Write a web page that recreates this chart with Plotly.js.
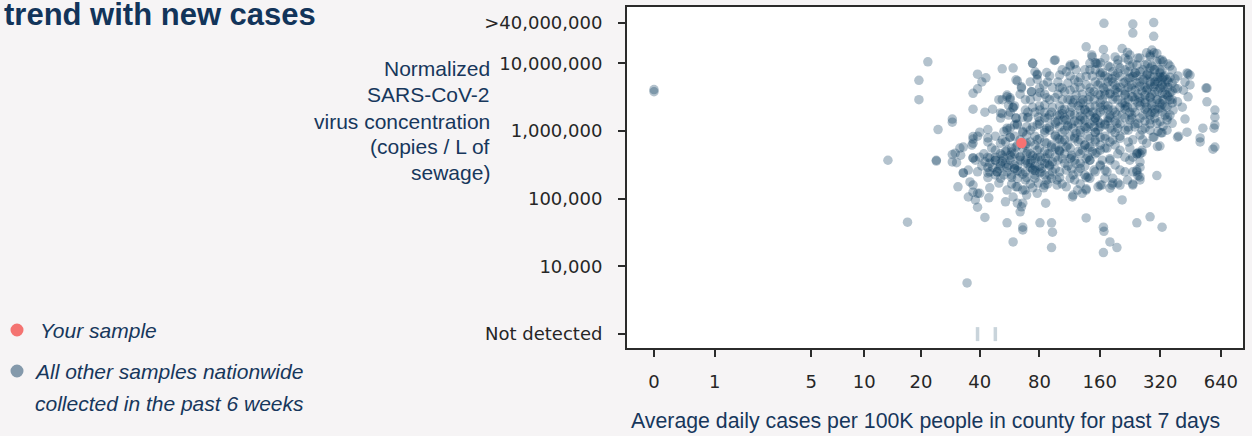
<!DOCTYPE html>
<html>
<head>
<meta charset="utf-8">
<script src="https://cdn.plot.ly/plotly-3.0.1.min.js"></script>
<style>
  html, body { margin: 0; padding: 0; background: #f6f4f5; }
  #chart { width: 1252px; height: 436px; }
</style>
</head>
<body>
<div id="chart"></div>
<script>
// ---------------- DATA ----------------
// x: average daily cases per 100K (axis drawn as log(cases + 1))
// y: normalized SARS-CoV-2 concentration (copies / L of sewage)
const xTickValues = [0, 1, 5, 10, 20, 40, 80, 160, 320, 640];
const xTickLabels = ['0', '1', '5', '10', '20', '40', '80', '160', '320', '640'];
const yTickValues = [1000, 1e4, 1e5, 1e6, 1e7, 4e7];
const yTickLabels = ['Not detected', '10,000', '100,000', '1,000,000', '10,000,000', '>40,000,000'];
const notDetectedLevel = 1000;

// your sample
const yourCases = [65];
const yourCopies = [6.65e5];

// samples with virus not detected
const notDetectedCases = [39, 48];

// all other samples [cases, copies]
const samplesSparse = [
[0,4.1e6],[0,3.8e6],[13.4,3.7e5],[17,4.5e4],[21.7,1.05e7],[19.5,5.6e6],[19.5,2.9e6],[24.5,1.05e6],[24,3.7e5],[34.5,5.7e3],
[39,6.9e6],[52,8.3e6],[59,8.5e6],[74,1.0e7],[95,1.1e7],[114,9.0e6],[43,6.1e6],[41,5.3e6],[62,5.5e6],[78,6.9e6],
[78,5.8e6],[39,4.2e6],[37,3.6e6],[65,4.3e6],[73,3.8e6],[55,3.4e6],[57,3.1e6],[50,2.9e6],[56,2.4e6],[59,2.2e6],
[37,2.1e6],[42.5,1.9e6],[46.5,2.1e6],[52,1.8e6],[61,1.55e6],[70,1.6e6],[29,1.5e6],[29,1.35e6],[39,8.4e5],[44,1.05e6],
[44,7.9e5],[37,7.6e5],[55,1.1e6],[62,1.23e6],[33,5.8e5],[36.5,6.2e5],[52,7.4e5],[57,8.1e5],[69,8.7e5]
];
const samplesTop = [
[168,3.9e7],[234,3.8e7],[234,2.8e7],[297,4.0e7],[297,2.5e7],[137,1.75e7],[167,1.6e7],[147,1.24e7],[143,1.0e7],[154,1.0e7],
[207,1.65e7],[191,1.24e7],[220,1.45e7],[291,1.57e7],[285,1.33e7],[308,1.4e7],[327,1.12e7]
];
const samplesRight = [
[435,7.2e6],[450,6.7e6],[425,5.3e6],[450,4.8e6],[546,4.3e6],[546,2.7e6],[598,2.04e6],[598,1.6e6],[598,1.23e6],[592,1.1e6],
[521,1.1e6],[505,7.9e5],[505,6.9e5],[435,9.6e5],[390,8.1e5],[412,2.25e6],[390,2.7e6],[440,3.2e6],[418,4.0e6],[367,2.6e6],
[348,1.6e6],[367,1.3e6],[323,9.4e5],[295,8.1e5],[262,7.4e5],[598,5.8e5],[585,5.4e5],[540,4.3e6],[425,1.5e6],[395,8.4e5],
[390,4.2e6],[440,7.0e6]
];
const samplesLow = [
[24,3.6e5],[29,4.5e5],[30.5,3.4e5],[31.7,5.6e5],[37,6.6e5],[37,4.0e5],[33,2.4e5],[31,1.5e5],[35.7,1.77e5],[37,1.25e5],
[35,1.06e5],[39,1.2e5],[44.5,1.03e5],[39,7.5e4],[42.5,5.3e4],[44,2.9e5],[44,2.4e5],[49,2.5e5],[50,1.7e5],[54,9.0e4],
[55,1.34e5],[59,1.06e5],[62,1.5e5],[67.7,1.34e5],[64,6.4e4],[66,8.6e4],[78,1.2e5],[86,8.6e4],[55,4.4e4],[66,3.8e4],
[66,3.45e4],[59,2.3e4],[80.5,4.4e4],[92,4.4e4],[93,3.2e4],[92,1.9e4],[79,1.7e5],[85,1.59e5],[98,1.89e5],[117,1.06e5],
[124,1.34e5],[310,5.9e5],[254,4.6e5],[245,4.6e5],[254,2.9e5],[245,2.5e5],[254,2.1e5],[308,2.2e5],[234,1.65e5],[197,1.7e5],
[186,1.7e5],[180,1.43e5],[164,1.59e5],[157,1.5e5],[140,2.1e5],[137,1.4e5],[131,1.2e5],[207,9.6e4],[137,5.2e4],[167,3.8e4],
[168,3.3e4],[245,4.4e4],[285,5.4e4],[327,3.8e4],[180,2.3e4],[195,1.9e4],[167,1.6e4]
];
const samplesCoreHigh = [
[146,1.33e7],[152,1.02e7],[114,9.4e6],[109,7.5e6],[122,8.0e6],[137,6.4e6],[161,1.02e7],[165,7.3e6],[180,8.8e6],[186,7.5e6],
[202,8.5e6],[222,1.12e7],[226,1.33e7],[245,9.4e6],[254,7.5e6],[234,6.4e6],[274,1.43e7],[285,8.5e6],[308,1.05e7],[331,1.05e7],
[327,8.0e6],[346,5.7e6],[358,6.2e6],[96,1.12e7],[101,6.7e6],[87,7.3e6],[78,6.7e6],[76,7.5e6],[74,1.0e7],[319,1.12e7],[298,1.43e7]
];
const samplesCoreUpper = [
[61,5.7e6],[65,4.5e6],[73,3.8e6],[80.5,3.7e6],[87,3.1e6],[93,4.4e6],[104,2.9e6],[107,3.8e6],[120,5.7e6],[128,4.4e6],
[132,2.9e6],[150,3.8e6],[161,5.1e6],[174,4.5e6],[186,5.3e6],[197,3.7e6],[210,5.1e6],[222,4.4e6],[234,3.2e6],[245,5.1e6],
[263,5.7e6],[274,4.0e6],[298,4.5e6],[312,5.3e6],[327,3.6e6],[331,2.9e6],[308,2.9e6],[350,4.4e6],[367,5.1e6],[346,2.25e6],
[371,2.04e6],[111,5.1e6],[122,3.4e6],[150,2.9e6],[186,2.9e6],[222,2.9e6],[254,2.7e6],[285,3.1e6],[180,3.6e6],[161,3.4e6],
[137,4.8e6],[202,6.4e6],[226,6.1e6],[274,6.7e6],[298,6.3e6],[319,6.3e6],[327,4.8e6],[84,4.8e6],[88,5.3e6],[78,3.2e6],
[55,3.2e6],[57,2.9e6],[59,2.25e6],[52,2.9e6]
];
const samplesCoreMiddle = [
[51,1.85e6],[56,1.72e6],[61,1.55e6],[66,1.6e6],[70,1.9e6],[74,2.25e6],[79,1.6e6],[85,1.9e6],[88,1.55e6],[93,2.25e6],
[98,1.72e6],[104,2.04e6],[109,1.45e6],[116,2.25e6],[120,1.72e6],[128,2.04e6],[135,1.45e6],[143,2.25e6],[155,1.72e6],[161,1.3e6],
[167,2.04e6],[176,1.55e6],[186,2.04e6],[195,1.3e6],[207,1.72e6],[220,2.25e6],[226,1.45e6],[240,1.9e6],[248,1.3e6],[263,1.72e6],
[274,2.25e6],[285,1.45e6],[301,1.85e6],[319,1.37e6],[338,1.72e6],[101,1.15e6],[118,1.1e6],[137,1.1e6],[150,1.15e6],[180,1.1e6],
[214,1.03e6],[269,1.1e6],[78,1.23e6],[69,1.15e6],[87,1.1e6],[60,1.23e6],[57,1.1e6],[66,9.8e5],[105,1.45e6],[128,1.45e6],
[195,1.72e6],[161,2.25e6],[132,2.6e6],[114,2.9e6],[202,2.25e6]
];
const samplesCoreLower = [
[51,6.6e5],[55,5.2e5],[53,4.0e5],[58,4.1e5],[64,3.7e5],[69,4.6e5],[73,3.7e5],[78,5.2e5],[80.5,4.1e5],[85,3.3e5],
[90,4.6e5],[93,3.5e5],[100,5.2e5],[104,3.9e5],[109,5.8e5],[116,4.4e5],[122,3.3e5],[131,5.2e5],[137,3.9e5],[143,5.8e5],
[155,4.8e5],[165,3.7e5],[174,5.6e5],[180,3.9e5],[191,3.15e5],[202,5.2e5],[214,4.1e5],[226,5.6e5],[245,4.6e5],[260,5.2e5],
[274,6.6e5],[298,8.1e5],[327,9.4e5],[346,1.03e6],[87,6.6e5],[101,7.4e5],[128,7.4e5],[161,8.1e5],[186,7.4e5],[234,7.4e5],
[69,6.6e5],[78,7.4e5],[61,5.8e5],[48,5.2e5],[45,4.0e5],[51,3.3e5],[55,2.9e5]
];
const samplesCoreBottom = [
[40,4.1e5],[42.5,3.5e5],[46.5,2.9e5],[49,2.5e5],[53,2.24e5],[58,2.05e5],[64,2.5e5],[69,2.05e5],[74,2.65e5],[80.5,2.4e5],
[87,1.89e5],[93,2.5e5],[101,2.05e5],[109,2.65e5],[118,2.24e5],[128,2.8e5],[137,2.05e5],[150,2.65e5],[161,3.15e5],[174,2.5e5],
[186,2.0e5],[202,2.65e5],[220,1.89e5],[234,2.5e5],[254,1.89e5],[84,1.45e5],[74,1.45e5],[98,1.59e5],[109,1.5e5],[118,1.13e5],
[137,1.34e5],[161,1.59e5],[184,1.59e5],[202,1.59e5],[61,1.5e5],[66,1.34e5],[69,1.13e5],[62,8.6e4],[65,7.6e4],[45,1.45e5],
[40,1.2e5],[38,9.6e4],[44,2.05e5],[37,1.59e5],[35,2.65e5],[33,2.4e5],[39,2.5e5],[32,4.4e5],[37,4.0e5],[30,4.7e5],
[29,3.5e5],[44,4.1e5],[40,9.6e5],[37,8.3e5],[44,6.9e5],[53,9.8e5],[57,8.1e5]
];
const samplesCoreEdge = [
[358,1.72e6],[346,1.45e6],[331,1.18e6],[312,9.9e5],[367,2.9e6],[358,3.7e6],[331,6.3e6],[319,6.0e5],[248,4.8e5],[254,3.5e5],
[234,4.1e5],[245,2.65e5],[234,1.59e5],[248,2.2e5],[260,4.8e5]
];
const samplesCoreDense = [
[170,3.4e6],[191,4.0e6],[214,3.4e6],[240,4.0e6],[269,3.4e6],[301,3.8e6],[170,2.42e6],[214,2.6e6],[269,2.6e6],[319,2.2e6],
[143,3.8e6],[135,2.04e6],[152,1.55e6],[170,1.23e6],[197,1.1e6],[240,1.15e6],[285,1.03e6],[254,8.7e5],[202,7.8e5],[152,7.4e5],
[120,8.1e5],[96,8.7e5],[85,1.03e6],[107,7.4e5],[135,6.2e5],[161,5.2e5],[191,6.2e5],[226,3.7e5],[114,3.9e5],[90,3.15e5],
[72,2.9e5],[60,3.15e5],[57,4.4e5],[48,3.7e5],[68,6.2e5],[202,4.4e6],[254,4.6e6],[176,6.1e6],[222,7.5e6],[285,5.3e6],
[319,8.0e6],[269,9.4e6],[197,1.12e7],[128,6.1e6],[101,4.4e6],[114,4.0e6],[96,3.1e6],[85,2.42e6],[72,2.9e6],[68,2.04e6],
[101,1.72e6],[125,1.3e6],[148,1.9e6],[231,1.55e6],[291,1.9e6],[308,1.3e6],[331,4.4e6],[346,3.4e6],[298,8.0e6],[248,1.2e7],
[161,6.7e6],[143,8.0e6],[120,2.9e6],[80.5,2.04e6],[64,7.4e5],[76,3.9e5],[101,5.2e5],[143,3.7e5],[170,2.65e5],[120,1.89e5],
[85,2.24e5],[68,1.89e5]
];
const samplesCoreFill = [
[170,1.2e7],[214,1.2e7],[254,1.2e7],[285,1.25e7],
[120,9.8e6],[157,9.8e6],[197,9.8e6],[234,9.8e6],[277,9.8e6],[350,9.8e6],
[104,8e6],[135,8e6],[152,8e6],[214,8e6],[263,8e6],[301,8e6],[367,8e6],
[90,6.5e6],[114,6.5e6],[147,6.5e6],[170,6.5e6],[191,6.5e6],[245,6.5e6],[285,6.5e6],[338,6.5e6],[392,6.5e6],
[72,5.3e6],[99,5.3e6],[125,5.3e6],[152,5.3e6],[176,5.3e6],[214,5.3e6],[254,5.3e6],[301,5.3e6],[350,5.3e6],
[80,4.3e6],[104,4.3e6],[120,4.3e6],[143,4.3e6],[167,4.3e6],[195,4.3e6],[231,4.3e6],[277,4.3e6],[319,4.3e6],[379,4.3e6],
[64,3.5e6],[85,3.5e6],[99,3.5e6],[131,3.5e6],[157,3.5e6],[180,3.5e6],[214,3.5e6],[248,3.5e6],[291,3.5e6],[338,3.5e6],
[68,2.9e6],[90,2.9e6],[111,2.9e6],[140,2.9e6],[165,2.9e6],[197,2.9e6],[240,2.9e6],[269,2.9e6],[312,2.9e6],[358,2.9e6],
[60,2.35e6],[80,2.35e6],[101,2.35e6],[125,2.35e6],[152,2.35e6],[176,2.35e6],[214,2.35e6],[254,2.35e6],[291,2.35e6],[338,2.35e6],
[57,1.9e6],[76,1.9e6],[92,1.9e6],[114,1.9e6],[140,1.9e6],[161,1.9e6],[191,1.9e6],[226,1.9e6],[277,1.9e6],[327,1.9e6],
[51,1.55e6],[70,1.55e6],[85,1.55e6],[107,1.55e6],[132,1.55e6],[152,1.55e6],[180,1.55e6],[214,1.55e6],[254,1.55e6],[301,1.55e6],
[62,1.27e6],[80,1.27e6],[96,1.27e6],[116,1.27e6],[143,1.27e6],[170,1.27e6],[202,1.27e6],[240,1.27e6],[285,1.27e6],
[55,1.03e6],[72,1.03e6],[90,1.03e6],[107,1.03e6],[128,1.03e6],[157,1.03e6],[184,1.03e6],[222,1.03e6],[260,1.03e6],
[48,8.4e5],[60,8.4e5],[76,8.4e5],[96,8.4e5],[114,8.4e5],[140,8.4e5],[170,8.4e5],[202,8.4e5],
[54,6.9e5],[72,6.9e5],[85,6.9e5],[104,6.9e5],[125,6.9e5],[152,6.9e5],[180,6.9e5],[222,6.9e5],
[46,5.6e5],[58,5.6e5],[66,5.6e5],[80,5.6e5],[96,5.6e5],[114,5.6e5],[140,5.6e5],[170,5.6e5],
[42,4.6e5],[51,4.6e5],[60,4.6e5],[72,4.6e5],[88,4.6e5],[107,4.6e5],[128,4.6e5],[152,4.6e5],[197,4.6e5],
[38,3.7e5],[48,3.7e5],[57,3.7e5],[68,3.7e5],[82,3.7e5],[99,3.7e5],[120,3.7e5],[143,3.7e5],[180,3.7e5],
[41,3.05e5],[51,3.05e5],[62,3.05e5],[76,3.05e5],[90,3.05e5],[111,3.05e5],[135,3.05e5],[161,3.05e5],
[45,2.5e5],[55,2.5e5],[68,2.5e5],[82,2.5e5],[101,2.5e5],[125,2.5e5],[152,2.5e5],[214,2.5e5],
[51,2.0e5],[62,2.0e5],[76,2.0e5],[92,2.0e5],[114,2.0e5],[143,2.0e5],[170,2.0e5],
[58,1.65e5],[72,1.65e5],[88,1.65e5],[104,1.65e5],[128,1.65e5]
];
const samplesCoreDarkest = [
[240,7.2e6],[277,7.0e6],[312,6.0e6],[269,4.4e6],[301,4.9e6],[254,3.1e6],[291,2.6e6],[327,2.5e6],[234,2.2e6],[301,2.1e6],
[118,2.6e6],[104,1.8e6],[128,1.65e6],[150,1.4e6],[111,1.2e6],[140,1.15e6],[96,1.35e6],[122,9.3e5],[152,9.6e5],[176,1.4e6],
[64,4.2e5],[70,3.3e5],[60,2.8e5],[80,3.0e5],[52,3.6e5],[86,4.0e5],[66,2.3e5],[76,2.6e5],[58,4.9e5],[92,5.8e5]
];
const samplesCoreExtra = [
[176,9.1e6],[226,9.1e6],[291,9.1e6],[358,9.1e6],
[161,7.2e6],[197,7.2e6],[240,7.2e6],[319,7.2e6],
[184,5.9e6],[222,5.9e6],[269,5.9e6],[327,5.9e6],[379,5.9e6],
[157,4.8e6],[191,4.8e6],[231,4.8e6],[285,4.8e6],[338,4.8e6],
[170,3.9e6],[214,3.9e6],[260,3.9e6],[312,3.9e6],[367,3.9e6],
[143,3.2e6],[191,3.2e6],[231,3.2e6],[285,3.2e6],[350,3.2e6],
[128,2.6e6],[161,2.6e6],[207,2.6e6],[248,2.6e6],[319,2.6e6],
[107,2.1e6],[135,2.1e6],[176,2.1e6],[214,2.1e6],[269,2.1e6],[312,2.1e6],
[90,1.72e6],[114,1.72e6],[143,1.72e6],[180,1.72e6],[231,1.72e6],[285,1.72e6],
[80,1.4e6],[99,1.4e6],[120,1.4e6],[157,1.4e6],[191,1.4e6],[269,1.4e6],
[74,1.15e6],[90,1.15e6],[111,1.15e6],[135,1.15e6],[161,1.15e6],[222,1.15e6],
[66,9.5e5],[85,9.5e5],[104,9.5e5],[128,9.5e5],[152,9.5e5],[191,9.5e5],
[80,7.7e5],[99,7.7e5],[120,7.7e5],[143,7.7e5],[170,7.7e5],
[62,6.2e5],[76,6.2e5],[92,6.2e5],[111,6.2e5],[135,6.2e5],[161,6.2e5],
[54,5.0e5],[70,5.0e5],[85,5.0e5],[101,5.0e5],[125,5.0e5],[147,5.0e5],
[48,4.1e5],[64,4.1e5],[78,4.1e5],[96,4.1e5],[116,4.1e5],[140,4.1e5],
[45,3.35e5],[54,3.35e5],[72,3.35e5],[88,3.35e5],[107,3.35e5],[128,3.35e5],
[50,2.75e5],[60,2.75e5],[74,2.75e5],[96,2.75e5],[116,2.75e5],
[48,2.24e5],[58,2.24e5],[76,2.24e5],[90,2.24e5],[135,2.24e5],
[56,3.1e5],[62,2.6e5],[68,3.4e5],[52,4.4e5],[74,4.3e5],[82,2.8e5]
];

// ---------------- BUILD ----------------
const allOther = [].concat(samplesSparse, samplesTop, samplesRight, samplesLow,
  samplesCoreHigh, samplesCoreUpper, samplesCoreMiddle, samplesCoreLower,
  samplesCoreBottom, samplesCoreEdge, samplesCoreDense, samplesCoreFill,
  samplesCoreDarkest, samplesCoreExtra);
const otherCases = allOther.map(p => p[0]);
const otherCopies = allOther.map(p => p[1]);
const shift = v => v + 1; // axis shows log(cases + 1)

const traces = [
  {
    type: 'scatter', mode: 'markers',
    x: notDetectedCases.map(shift),
    y: notDetectedCases.map(() => notDetectedLevel),
    marker: {symbol: 'line-ns', size: 10, line: {color: 'rgba(11,58,92,0.22)', width: 3.5}},
    hoverinfo: 'skip'
  },
  {
    type: 'scatter', mode: 'markers',
    x: otherCases.map(shift), y: otherCopies,
    marker: {size: 9.5, color: 'rgba(11,58,92,0.31)', line: {width: 0}},
    hoverinfo: 'skip'
  },
  {
    type: 'scatter', mode: 'markers',
    x: yourCases.map(shift), y: yourCopies,
    marker: {size: 10.5, color: '#f87272', line: {width: 0}},
    hoverinfo: 'skip'
  }
];

// pixel helpers for annotations (plot area: x 627..1243, y 7..348)
const PL = 627, PW = 616, PB = 348, PH = 341;
const px = v => (v - PL) / PW;
const py = v => (PB - v) / PH;
const navy = '#17375c';
const sans = 'Liberation Sans, Arial, sans-serif';

const yTitleLines = ['Normalized', 'SARS-CoV-2', 'virus concentration', '(copies / L of', 'sewage)'];
const yTitleCenters = [68.5, 94, 121, 146.5, 172.5];

const annotations = [
  {text: '<b>trend with new cases</b>', x: px(317), y: py(14.5), xanchor: 'right', yanchor: 'middle',
   font: {family: sans, size: 31, color: '#12345a'}},
  {text: 'Average daily cases per 100K people in county for past 7 days', x: px(925), y: py(421),
   xanchor: 'center', yanchor: 'middle', font: {family: sans, size: 21.3, color: navy}},
  {text: '<i>Your sample</i>', x: px(38.5), y: py(330.5), xanchor: 'left', yanchor: 'middle',
   font: {family: sans, size: 21, color: navy}},
  {text: '<i>All other samples nationwide</i>', x: px(32.5), y: py(371), xanchor: 'left', yanchor: 'middle',
   font: {family: sans, size: 21, color: navy}},
  {text: '<i>collected in the past 6 weeks</i>', x: px(34), y: py(403), xanchor: 'left', yanchor: 'middle',
   font: {family: sans, size: 21, color: navy}}
].concat(yTitleLines.map((t, i) => ({
  text: t, x: px(491), y: py(yTitleCenters[i]), xanchor: 'right', yanchor: 'middle', align: 'right',
  font: {family: sans, size: 21, color: navy}
}))).map(a => Object.assign({xref: 'paper', yref: 'paper', showarrow: false, borderpad: 0}, a));

const dot = (cy, color) => ({
  type: 'circle', xref: 'paper', yref: 'paper', xsizemode: 'pixel', ysizemode: 'pixel',
  xanchor: px(17), yanchor: py(cy), x0: -6.5, x1: 6.5, y0: -6.5, y1: 6.5,
  fillcolor: color, line: {width: 0}
});

const axisCommon = {
  type: 'log', ticks: 'outside', ticklen: 7, tickwidth: 2, tickcolor: '#2b2b2b',
  showline: true, linewidth: 2, linecolor: '#2b2b2b', mirror: true,
  showgrid: false, zeroline: false,
  tickfont: {family: 'DejaVu Sans', size: 18, color: '#262626'}
};

const layout = {
  width: 1252, height: 436,
  margin: {l: 627, r: 9, t: 7, b: 88, pad: 0},
  paper_bgcolor: '#f6f4f5', plot_bgcolor: '#ffffff',
  showlegend: false,
  xaxis: Object.assign({}, axisCommon, {
    range: [-0.1337, 2.9165],
    tickmode: 'array', tickvals: xTickValues.map(shift), ticktext: xTickLabels,
    ticklabelstandoff: 9
  }),
  yaxis: Object.assign({}, axisCommon, {
    range: [2.795, 7.8316],
    tickmode: 'array', tickvals: yTickValues, ticktext: yTickLabels,
    ticklabelstandoff: 12
  }),
  annotations: annotations,
  shapes: [dot(330, '#f47371'), dot(371, '#8499ab')]
};

Plotly.newPlot('chart', traces, layout, {staticPlot: true, displayModeBar: false});
</script>
</body>
</html>
